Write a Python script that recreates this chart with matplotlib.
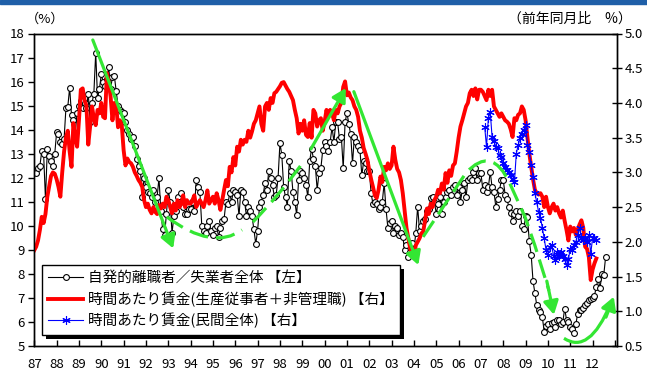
import numpy as np
import matplotlib
matplotlib.use('Agg')
import matplotlib.pyplot as plt
from matplotlib.path import Path
from matplotlib.patches import PathPatch, Rectangle
from matplotlib.transforms import IdentityTransform

plt.rcParams['font.family'] = ['Noto Sans CJK JP', 'DejaVu Sans']

# 自発的離職者／失業者全体 (%), monthly from Jan 1987
quit_rate = [
    12.3, 12.2, 12.4, 12.5, 13.1, 13.0, 11.1, 13.2, 12.9, 12.7, 12.5, 13.0,   # 87
    13.9, 13.8, 13.5, 13.4, 13.6, 14.9, 14.95, 15.75, 14.6, 14.4, 13.85, 14.7,  # 88
    15.0, 15.2, 14.9, 15.1, 14.9, 15.5, 14.3, 15.1, 15.5, 17.2, 15.3, 15.7,   # 89
    16.3, 16.0, 15.8, 16.1, 16.6, 15.7, 16.2, 16.25, 15.6, 15.0, 14.8, 14.75,  # 90
    14.7, 14.3, 14.0, 13.8, 13.6, 13.7, 13.3, 12.8, 12.5, 12.3, 11.2, 12.0,   # 91
    11.6, 11.4, 11.35, 11.2, 11.5, 11.0, 11.2, 12.0, 10.6, 9.85, 9.6, 10.5,   # 92
    11.5, 11.0, 9.7, 10.4, 10.6, 11.2, 11.0, 11.35, 10.8, 10.5, 10.5, 10.7,   # 93
    10.7, 11.0, 10.6, 11.9, 11.6, 11.4, 10.0, 9.8, 9.7, 10.0, 10.2, 9.8,      # 94
    9.6, 9.9, 10.0, 9.55, 9.9, 10.2, 10.3, 11.0, 10.9, 11.35, 11.0, 11.5,     # 95
    11.4, 11.3, 10.4, 11.5, 11.4, 11.0, 10.4, 10.8, 10.6, 10.4, 9.85, 9.25,   # 96
    9.8, 10.8, 11.0, 11.3, 11.8, 11.5, 12.3, 12.0, 11.7, 11.2, 11.3, 12.0,    # 97
    13.45, 12.95, 11.6, 11.2, 10.8, 12.7, 12.3, 11.4, 11.0, 10.45, 11.9, 12.3,  # 98
    12.2, 12.0, 11.7, 11.2, 12.7, 13.2, 12.8, 12.5, 11.5, 12.2, 12.4, 13.15,  # 99
    13.5, 13.3, 13.1, 13.5, 14.1, 13.5, 14.3, 14.3, 13.6, 13.7, 12.4, 14.3,   # 00
    14.7, 14.25, 13.8, 12.6, 13.7, 13.5, 13.3, 13.15, 12.1, 12.7, 12.6, 12.3,  # 01
    12.3, 11.35, 10.9, 11.0, 10.9, 10.7, 10.8, 11.0, 11.77, 10.7, 9.9, 10.1,  # 02
    10.2, 9.7, 10.0, 9.9, 9.6, 9.7, 9.55, 9.0, 9.2, 8.7, 8.9, 9.3,            # 03
    9.0, 9.7, 10.8, 9.8, 10.0, 10.2, 10.3, 10.6, 10.7, 11.15, 11.2, 11.0,     # 04
    10.5, 10.9, 11.2, 10.5, 11.0, 11.2, 11.4, 11.5, 11.3, 11.6, 11.7, 11.3,   # 05
    11.6, 11.0, 11.5, 11.8, 11.2, 11.9, 12.0, 11.9, 12.25, 12.4, 11.9, 12.2,  # 06
    12.2, 11.5, 11.7, 11.4, 11.6, 12.25, 11.6, 11.4, 10.8, 11.1, 11.5, 11.9,  # 07
    11.9, 11.3, 11.1, 10.8, 10.55, 10.2, 10.5, 10.6, 10.4, 10.6, 10.0, 9.85,  # 08
    10.4, 10.35, 9.35, 8.8, 7.7, 7.2, 6.7, 6.5, 6.4, 6.2, 5.6, 5.85,          # 09
    5.9, 5.7, 5.95, 6.0, 5.8, 6.1, 6.1, 5.9, 6.0, 6.55, 6.1, 6.0,             # 10
    5.8, 5.7, 5.55, 5.9, 6.35, 6.5, 6.5, 6.6, 6.7, 6.8, 6.9, 6.95,            # 11
    7.0, 7.1, 7.45, 7.8, 7.4, 8.0, 7.95, 8.7,                                 # 12
]

# 時間あたり賃金(生産従事者＋非管理職), 前年同月比 %, monthly from Jan 1987
wage_prod = [
    1.88, 1.93, 2.02, 2.17, 2.36, 2.27, 2.4, 2.65, 2.8, 2.95, 3.0, 2.98,
    2.9, 2.79, 2.65, 3.0, 3.3, 3.5, 3.6, 3.3, 3.08, 3.71, 3.5, 3.37,
    3.75, 4.19, 4.21, 4.04, 3.96, 3.4, 3.66, 3.95, 3.78, 3.68, 3.9, 3.85,
    4.0, 3.8, 3.78, 4.43, 4.3, 4.09, 3.75, 4.0, 3.97, 3.65, 3.75, 3.68,
    3.32, 3.1, 3.2, 3.15, 3.13, 3.08, 3.0, 2.95, 2.89, 2.85, 2.79, 2.6,
    2.5, 2.55, 2.46, 2.41, 2.5, 2.43, 2.4, 2.53, 2.48, 2.55, 2.5, 2.65,
    2.6, 2.5, 2.41, 2.55, 2.45, 2.6, 2.5, 2.55, 2.67, 2.5, 2.6, 2.55,
    2.55, 2.6, 2.67, 2.5, 2.55, 2.6, 2.55, 2.5, 2.6, 2.74, 2.55, 2.6,
    2.65, 2.55, 2.7, 2.6, 2.46, 2.6, 2.75, 2.89, 2.8, 3.08, 3.0, 3.22,
    3.1, 3.37, 3.3, 3.47, 3.4, 3.47, 3.44, 3.6, 3.5, 3.59, 3.7, 3.75,
    3.85, 3.95, 3.7, 3.6, 3.95, 4.0, 3.9, 4.07, 4.0, 4.14, 4.16, 4.2,
    4.24, 4.29, 4.3, 4.25, 4.2, 4.16, 4.1, 4.04, 3.9, 3.78, 3.56, 3.7,
    3.6, 3.75, 3.54, 3.51, 3.71, 3.5, 3.9, 3.85, 3.66, 3.75, 3.78, 3.6,
    3.73, 3.9, 3.8, 3.9, 3.85, 3.75, 3.9, 3.85, 3.95, 4.0, 4.23, 4.31,
    4.11, 4.15, 4.08, 4.04, 3.95, 3.9, 3.8, 3.6, 3.5, 3.35, 3.27, 3.18,
    3.03, 2.9, 2.79, 2.67, 2.63, 2.75, 2.94, 2.86, 3.08, 3.03, 3.13, 3.05,
    3.1, 3.37, 3.18, 3.05, 3.0, 2.89, 2.7, 2.45, 2.2, 2.05, 1.9, 1.82,
    1.8, 1.95, 2.0, 2.05, 2.12, 2.15, 2.31, 2.48, 2.4, 2.55, 2.5, 2.6,
    2.65, 2.75, 2.7, 2.84, 2.75, 2.99, 2.85, 3.03, 2.95, 3.1, 3.13, 3.3,
    3.5, 3.66, 3.75, 3.85, 3.95, 4.0, 4.14, 4.19, 4.1, 4.21, 4.05, 4.19,
    4.19, 4.16, 4.1, 4.04, 4.19, 4.1, 4.19, 3.95, 3.9, 3.85, 3.8, 3.85,
    3.8, 3.75, 3.73, 3.7, 3.62, 3.51, 3.78, 3.75, 3.83, 3.85, 3.95, 3.9,
    3.75, 3.5, 3.27, 3.08, 2.9, 2.75, 2.7, 2.68, 2.7, 2.65, 2.5, 2.65,
    2.5, 2.41, 2.5, 2.55, 2.45, 2.5, 2.41, 2.35, 2.45, 2.3, 2.17, 2.02,
    2.22, 2.15, 2.2, 2.1, 2.18, 2.25, 2.31, 2.2, 1.93, 1.9, 1.78, 1.45,
    1.6, 1.69, 1.76,
]

# 時間あたり賃金(民間全体), 前年同月比 %, monthly from Mar 2007
wage_all = [
    3.66, 3.37, 3.78, 3.87, 3.51, 3.45, 3.37, 3.35, 3.25, 3.22,
    3.13, 3.08, 3.03, 3.0, 2.96, 2.9, 2.86, 3.27, 3.39, 3.49, 3.56, 3.61,
    3.68, 3.4, 3.3, 3.1, 2.94, 2.7, 2.57, 2.43, 2.35, 2.2, 2.05, 1.88,
    1.81, 1.93, 1.95, 1.8, 1.74, 1.85, 1.8, 1.86, 1.8, 1.76, 1.66, 1.75,
    1.9, 1.88, 1.95, 2.0, 2.1, 2.2, 2.05, 2.02, 2.05, 2.0, 2.1, 1.83,
    2.05, 2.05, 2.03,
]

years = list(range(1987, 2014))
legend_labels = ['自発的離職者／失業者全体 【左】',
                 '時間あたり賃金(生産従事者＋非管理職) 【右】',
                 '時間あたり賃金(民間全体) 【右】']

green = '#33e633'

fig = plt.figure(figsize=(6.47, 3.76), dpi=100)
ax = fig.add_axes([34.3 / 647, 1 - 346 / 376, (616.7 - 34.3) / 647, (346 - 33.5) / 376])
ax2 = ax.twinx()

t_q = 1987 + np.arange(len(quit_rate)) / 12
t_w = 1987 + np.arange(len(wage_prod)) / 12
t_a = 2007 + 2 / 12 + np.arange(len(wage_all)) / 12

l1, = ax.plot(t_q, quit_rate, color='black', lw=0.8, marker='o', ms=4.2,
              mfc='white', mec='black', mew=0.8)
l2, = ax2.plot(t_w, wage_prod, color='#ff0000', lw=2.8, solid_joinstyle='round')
l3, = ax2.plot(t_a, wage_all, color='#0000ff', lw=0.8, marker=(6, 2, 0), ms=6, mew=0.8)

ax.set_xlim(1987, 2013.08)
ax.set_ylim(5, 18)
ax2.set_ylim(0.5, 5.0)
ax.set_yticks(range(5, 19))
ax2.set_yticks(np.arange(0.5, 5.01, 0.5))
ax2.set_yticklabels(['%.1f' % v for v in np.arange(0.5, 5.01, 0.5)])
ax.set_xticks(years)
ax.set_xticklabels(['%02d' % (y % 100) if y < 2013 else '' for y in years])

ax.tick_params(axis='y', direction='out', length=4, width=1, labelsize=9.5, pad=3)
ax.tick_params(axis='x', direction='in', length=4, width=1, labelsize=9.5, pad=9)
ax2.tick_params(axis='y', direction='inout', length=7, width=1, labelsize=9.5, pad=2)
for a in (ax, ax2):
    for s in a.spines.values():
        s.set_linewidth(1.0)

# green trend arrows (in left-axis units)
tr = ax.transData
head = '-|>,head_length=0.8,head_width=0.45'


def arrow(p0, p1):
    ax2.annotate('', xy=p1, xytext=p0, xycoords=tr, textcoords=tr,
                 arrowprops=dict(arrowstyle=head, color=green, lw=2.3,
                                 shrinkA=0, shrinkB=0), zorder=4)


def curve(verts, codes, dashed=True):
    p = PathPatch(Path(verts, codes), transform=tr, fill=False, ec=green, lw=2.3,
                  ls=(0, (6, 2.5)) if dashed else '-', capstyle='butt', zorder=4)
    ax2.add_patch(p)


arrow((1989.62, 17.73), (1993.22, 9.06))
curve([(1992.93, 10.37), (1995.0, 8.95), (1996.3, 9.83)],
      [Path.MOVETO, Path.CURVE3, Path.CURVE3])
curve([(1996.79, 10.16), (1998.0, 11.3), (1999.08, 12.7)],
      [Path.MOVETO, Path.CURVE3, Path.CURVE3])
arrow((1999.39, 13.2), (2000.95, 15.73))
arrow((2001.31, 15.58), (2004.2, 8.37))
curve([(2004.41, 9.54), (2006.33, 12.2), (2007.49, 13.38), (2008.29, 11.77),
       (2008.97, 10.38), (2009.41, 9.2), (2010.05, 7.3)],
      [Path.MOVETO, Path.LINETO, Path.CURVE3, Path.CURVE3,
       Path.LINETO, Path.LINETO, Path.LINETO])
arrow((2009.95, 7.7), (2010.27, 6.3))
curve([(2010.72, 5.32), (2011.855, 4.625), (2012.8, 6.75)],
      [Path.MOVETO, Path.CURVE3, Path.CURVE3], dashed=False)
arrow((2012.6, 6.2), (2012.95, 7.05))

leg = ax2.legend([l1, l2, l3], legend_labels, loc='lower left',
                 bbox_to_anchor=(0.013, 0.035), borderaxespad=0, fontsize=10.5,
                 fancybox=False, edgecolor='black', framealpha=1,
                 handlelength=2.4, handletextpad=0.3, labelspacing=0.42,
                 borderpad=0.45)
leg.get_frame().set_linewidth(1.0)
leg.set_zorder(6)

# solid black drop shadow behind the legend box
fig.canvas.draw()
bb = leg.get_window_extent()
shadow = Rectangle((bb.x0 + 4, bb.y0 - 4), bb.width, bb.height, transform=IdentityTransform(),
                   facecolor='black', edgecolor='none', zorder=5.5)
ax2.add_artist(shadow)

fig.text(45 / 647, 1 - 19 / 376, '（%）', ha='center', va='center', fontsize=9.5)
fig.text(632 / 647, 1 - 19 / 376, '（前年同月比　%）', ha='right', va='center', fontsize=10)
fig.patches.append(Rectangle((0, 1 - 3.5 / 376), 1, 3.5 / 376, transform=fig.transFigure,
                             color='#1f5fa8', zorder=0))

fig.savefig('out.png', dpi=100)
